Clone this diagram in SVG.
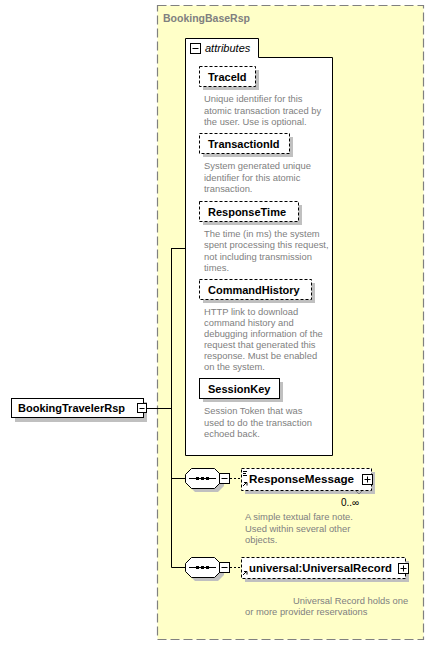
<svg xmlns="http://www.w3.org/2000/svg" width="433" height="645" viewBox="0 0 433 645">
<style>
.bg{fill:#fff}
.grp{fill:#FFFFC8;stroke:#808080;stroke-width:1.2;stroke-dasharray:9 4}
.box{fill:#fff;stroke:#000;stroke-width:1}
.dbox{fill:#fff;stroke:#000;stroke-width:1;stroke-dasharray:3 2}
.sh{fill:#C0C0C0}
.name{font-family:"Liberation Sans",Arial,sans-serif;font-weight:bold;font-size:11px;fill:#000}
.title{font-family:"Liberation Sans",Arial,sans-serif;font-weight:bold;font-size:10.5px;fill:#808080}
.desc{font-family:"Liberation Sans",Arial,sans-serif;font-size:9.4px;fill:#808080}
.it{font-family:"Liberation Sans",Arial,sans-serif;font-style:italic;font-size:11px;fill:#000}
.card{font-family:"Liberation Sans",Arial,sans-serif;font-size:10px;fill:#000}
.ln{stroke:#000;stroke-width:1;fill:none}
.dl{stroke:#000;stroke-width:1;fill:none;stroke-dasharray:2 2}
.btn{fill:#fff;stroke:#000;stroke-width:1}
</style>
<rect class="bg" x="0" y="0" width="433" height="645"/>
<g id="BookingBaseRsp">
<rect class="grp" x="157.5" y="5.5" width="266" height="634"/>
<text class="title" x="163" y="22">BookingBaseRsp</text>
</g>
<g id="connectors">
<path class="ln" d="M147 408.5H171.5M171.5 248V567.5M171.5 248.5H185M171.5 478.5H185M171.5 567.5H185"/>
<path class="dl" d="M230 478.5H241M230 567.5H241"/>
</g>
<g id="BookingTravelerRsp">
<rect class="sh" x="15" y="402" width="132" height="20"/>
<rect class="box" x="11.5" y="398.5" width="132" height="19"/>
<text class="name" x="18" y="412">BookingTravelerRsp</text>
<rect class="btn" x="137.5" y="403.5" width="9" height="9"/>
<path class="ln" d="M139.5 408.5H144.5"/>
</g>
<g id="attributes">
<path class="box" d="M185.5 455.5V38.5H258.5V57.5H332.5V455.5Z"/>
<rect class="btn" x="190.5" y="43.5" width="10" height="10"/>
<path class="ln" d="M192.5 48.5H198.5"/>
<text class="it" x="205" y="52">attributes</text>
</g>
<g id="TraceId">
<rect class="sh" x="203" y="70" width="56" height="20"/>
<rect class="dbox" x="199.5" y="66.5" width="56" height="20"/>
<text class="name" x="208" y="81">TraceId</text>
<text class="desc" x="204" y="102">Unique identifier for this</text>
<text class="desc" x="204" y="113.5">atomic transaction traced by</text>
<text class="desc" x="204" y="125">the user. Use is optional.</text>
</g>
<g id="TransactionId">
<rect class="sh" x="203" y="137" width="90" height="20"/>
<rect class="dbox" x="199.5" y="133.5" width="90" height="20"/>
<text class="name" x="208" y="148">TransactionId</text>
<text class="desc" x="204" y="169">System generated unique</text>
<text class="desc" x="204" y="180.5">identifier for this atomic</text>
<text class="desc" x="204" y="192">transaction.</text>
</g>
<g id="ResponseTime">
<rect class="sh" x="203" y="205" width="99" height="20"/>
<rect class="dbox" x="199.5" y="201.5" width="99" height="20"/>
<text class="name" x="208" y="216">ResponseTime</text>
<text class="desc" x="204" y="237">The time (in ms) the system</text>
<text class="desc" x="204" y="248.3">spent processing this request,</text>
<text class="desc" x="204" y="259.6">not including transmission</text>
<text class="desc" x="204" y="271">times.</text>
</g>
<g id="CommandHistory">
<rect class="sh" x="203" y="283" width="112" height="20"/>
<rect class="dbox" x="199.5" y="279.5" width="112" height="20"/>
<text class="name" x="208" y="294">CommandHistory</text>
<text class="desc" x="204" y="315">HTTP link to download</text>
<text class="desc" x="204" y="326">command history and</text>
<text class="desc" x="204" y="337">debugging information of the</text>
<text class="desc" x="204" y="348">request that generated this</text>
<text class="desc" x="204" y="359">response. Must be enabled</text>
<text class="desc" x="204" y="370">on the system.</text>
</g>
<g id="SessionKey">
<rect class="sh" x="203" y="382" width="80" height="20"/>
<rect class="box" x="199.5" y="378.5" width="80" height="20"/>
<text class="name" x="208" y="393">SessionKey</text>
<text class="desc" x="204" y="414">Session Token that was</text>
<text class="desc" x="204" y="425.5">used to do the transaction</text>
<text class="desc" x="204" y="437">echoed back.</text>
</g>
<g id="sequence1">
<path class="sh" d="M195 472H218L224 478V486L218 492H195L189 486V478Z"/>
<path class="box" d="M191.5 468.5H214.5L220.5 474.5V482.5L214.5 488.5H191.5L185.5 482.5V474.5Z"/>
<path class="ln" d="M189 478.5H216"/>
<rect x="196" y="477" width="3" height="3" fill="#000"/>
<rect x="201" y="477" width="3" height="3" fill="#000"/>
<rect x="206" y="477" width="3" height="3" fill="#000"/>
<rect class="btn" x="219.5" y="473.5" width="10" height="10"/>
<path class="ln" d="M221.5 478.5H227.5"/>
</g>
<g id="ResponseMessage">
<rect class="sh" x="245" y="472" width="130" height="22"/>
<rect class="dbox" x="241.5" y="468.5" width="130" height="22"/>
<path class="ln" d="M243 471.5H247M243 473.5H246M243 475.5H247"/>
<path class="ln" d="M243 486L247 482M244 482.5H247V485.5"/>
<text class="name" x="249" y="483" textLength="105" lengthAdjust="spacingAndGlyphs">ResponseMessage</text>
<rect class="btn" x="362.5" y="474.5" width="10" height="10"/>
<path class="ln" d="M364.5 479.5H370.5M367.5 476.5V482.5"/>
<path d="M356 491L359 494L362 491" fill="none" stroke="#808080" stroke-width="1"/>
<text class="card" x="341" y="506">0..∞</text>
<text class="desc" x="245" y="520">A simple textual fare note.</text>
<text class="desc" x="245" y="531.5">Used within several other</text>
<text class="desc" x="245" y="543">objects.</text>
</g>
<g id="sequence2">
<path class="sh" d="M195 561H218L224 567V575L218 581H195L189 575V567Z"/>
<path class="box" d="M191.5 557.5H214.5L220.5 563.5V571.5L214.5 577.5H191.5L185.5 571.5V563.5Z"/>
<path class="ln" d="M189 567.5H216"/>
<rect x="196" y="566" width="3" height="3" fill="#000"/>
<rect x="201" y="566" width="3" height="3" fill="#000"/>
<rect x="206" y="566" width="3" height="3" fill="#000"/>
<rect class="btn" x="219.5" y="562.5" width="10" height="10"/>
<path class="ln" d="M221.5 567.5H227.5"/>
</g>
<g id="UniversalRecord">
<rect class="sh" x="245" y="561" width="164" height="21"/>
<rect class="dbox" x="241.5" y="557.5" width="164" height="21"/>
<path class="ln" d="M243 575L247 571M244 571.5H247V574.5"/>
<text class="name" x="249" y="572" textLength="143" lengthAdjust="spacingAndGlyphs">universal:UniversalRecord</text>
<rect class="btn" x="398.5" y="563.5" width="10" height="10"/>
<path class="ln" d="M400.5 568.5H406.5M403.5 565.5V571.5"/>
<text class="desc" x="293" y="604">Universal Record holds one</text>
<text class="desc" x="245" y="615">or more provider reservations</text>
</g>
</svg>
